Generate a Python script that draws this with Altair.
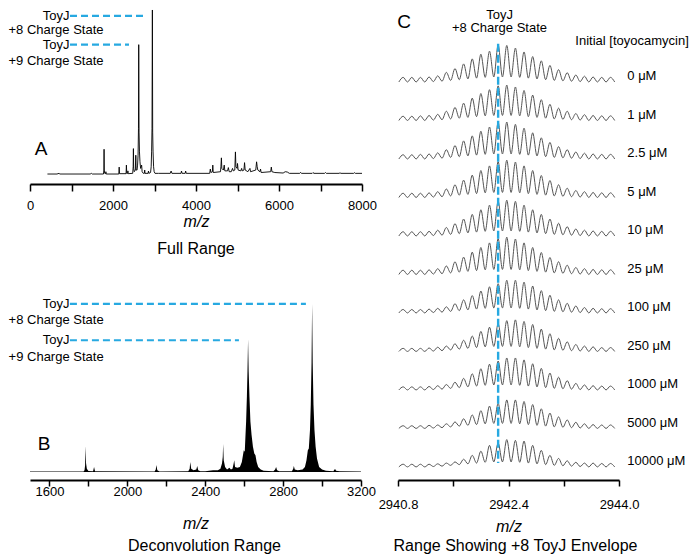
import altair as alt
import pandas as pd

FONT = "Liberation Sans"
CYAN = "#27A9E1"

# ---------------- Panel A: full-range spectrum (m/z, relative intensity) ----------------
a_mz = [420, 650, 700, 720, 1450, 1480, 1500,
        1770, 1780, 1785, 1790, 1800, 1822, 1829, 1836,
        2140, 2149, 2158,
        2315, 2323, 2332, 2352, 2359, 2366,
        2475, 2486, 2492, 2498, 2512, 2538, 2549, 2558, 2580, 2592, 2604, 2614, 2620, 2628, 2638, 2650, 2665, 2690, 2702, 2730, 2755, 2764, 2772, 2845, 2855, 2865,
        2905, 2920, 2930, 2940, 2949, 2956, 2965, 2978, 2992, 3012,
        3100, 3380, 3400, 3420, 3640, 3650, 3665, 3740, 3750, 3765,
        4330, 4345, 4360, 4395, 4405, 4415,
        4590, 4600, 4612, 4622, 4660, 4680, 4695, 4760, 4780, 4800, 4850, 4880, 4900,
        4935, 4950, 4962, 4990, 5000, 5015, 5080, 5100, 5115, 5155, 5170, 5185, 5250, 5300, 5315,
        5440, 5460, 5475, 5490, 5540, 5555, 5570,
        5800, 5815, 5830, 5900,
        6100, 6150, 6200, 6250,
        6500, 6520, 6540, 6800, 6820, 6840, 7100, 7120, 7140, 7450, 7470, 7490, 7800, 7820, 7840, 8000]
a_int = [0.6, 0.6, 1.0, 0.6, 0.6, 1.0, 0.6,
         0.6, 3, 15.6, 3, 1, 0.8, 2, 0.6,
         0.6, 4.8, 0.8,
         0.8, 6, 1, 1, 2.5, 0.8,
         1, 5, 16, 4, 2, 3, 12, 3, 3, 6, 12, 28, 79, 26, 14, 8, 4, 6, 2, 1, 1, 3, 1, 1, 2.4, 1,
         1.5, 5, 14, 28, 100, 26, 14, 5, 2, 1,
         1, 1, 2.4, 1, 1, 2.4, 1, 1, 2.4, 1,
         1, 3.6, 1.5, 2, 6, 1.5,
         2, 5, 10.4, 4, 3, 6, 2.5, 2.5, 4.5, 2, 2, 4, 2.5,
         3, 14, 5, 4, 7, 3, 2.5, 4, 2.5, 3, 7.5, 3, 2, 4, 2,
         3, 8, 5, 3, 2, 3.6, 1.5,
         2, 4.8, 2, 1.5,
         1.2, 2, 1.8, 1,
         1, 1.6, 1, 1, 1.5, 1, 1, 1.5, 1, 1, 1.4, 1, 1, 1.4, 1, 1]

# ---------------- Panel B: deconvolution range (m/z, relative intensity) ----------------
b_mz = [1500, 1775, 1780, 1783, 1785, 1788, 1792, 1800, 1824, 1829, 1834,
        2140, 2146, 2149, 2154, 2165,
        2313, 2320, 2323, 2328, 2340, 2354, 2359, 2364, 2375,
        2400, 2440, 2465, 2478, 2486, 2490, 2492, 2495, 2502, 2512, 2524, 2532, 2540, 2546, 2549, 2553, 2565,
        2578, 2588, 2598, 2603, 2606, 2610, 2614, 2617, 2620, 2623, 2627, 2632, 2638, 2645, 2652, 2658, 2664, 2672, 2685, 2700,
        2750, 2759, 2764, 2769, 2780,
        2845, 2852, 2855, 2860, 2875,
        2900, 2912, 2920, 2927, 2932, 2938, 2942, 2946, 2949, 2952, 2956, 2961, 2967, 2974, 2985, 3000, 3020,
        3058, 3064, 3067, 3072, 3090, 3200]
b_int = [0.3, 0.3, 1, 4, 15.5, 5, 2, 0.6, 0.4, 3, 0.5,
         0.3, 1.5, 4.2, 1, 0.3,
         0.5, 2, 6, 2, 1, 1.5, 3.6, 1, 0.5,
         0.5, 1, 1, 2, 5, 9, 16.7, 7, 3, 1.5, 2.5, 1.5, 2, 5, 7, 3, 2.5,
         3, 6, 13, 12, 20, 30, 45, 60, 79, 60, 45, 30, 22, 15, 11, 10, 6, 3, 1.5, 0.8,
         0.5, 1.5, 3, 1, 0.5,
         0.5, 2, 3.6, 1.5, 1,
         1.5, 3, 7, 13, 14, 25, 40, 65, 100, 65, 40, 25, 15, 8, 3, 1.5, 0.8,
         0.5, 1.5, 1.8, 0.8, 0.5, 0.3]

# ---------------- Panel C: +8 ToyJ isotope envelopes ----------------
peak_mz = [2940.875, 2941.0, 2941.125, 2941.25, 2941.375, 2941.5, 2941.625, 2941.75, 2941.875,
           2942.0, 2942.125, 2942.25, 2942.375, 2942.5, 2942.625, 2942.75, 2942.875, 2943.0,
           2943.125, 2943.25, 2943.375, 2943.5, 2943.625, 2943.75, 2943.875]
trough_mz = [2940.8125, 2940.9375, 2941.0625, 2941.1875, 2941.3125, 2941.4375, 2941.5625, 2941.6875,
             2941.8125, 2941.9375, 2942.0625, 2942.1875, 2942.3125, 2942.4375, 2942.5625, 2942.6875,
             2942.8125, 2942.9375, 2943.0625, 2943.1875, 2943.3125, 2943.4375, 2943.5625, 2943.6875,
             2943.8125, 2943.9375]
trough_h = [0, 0, 0, 0, .01, .02, .04, .06, .08, .10, .12, .13, .13, .13, .12, .10, .08, .06, .04, .03,
            .02, .01, 0, 0, 0, 0]
conc_labels = ["0 μM", "1 μM", "2.5 μM", "5 μM", "10 μM", "25 μM", "100 μM", "250 μM",
               "1000 μM", "5000 μM", "10000 μM"]
env_0 = [.12, .12, .12, .13, .16, .25, .35, .47, .60, .72, .80, .96, .95, .88, .78, .66, .55, .43, .32, .24, .18, .15, .13, .12, .12]
env_1 = [.11, .11, .12, .13, .16, .24, .34, .45, .58, .70, .80, .90, .92, .87, .78, .66, .54, .42, .32, .24, .18, .15, .13, .12, .12]
env_2p5 = [.11, .11, .12, .13, .16, .24, .35, .47, .60, .72, .83, .95, .96, .90, .80, .68, .55, .43, .32, .24, .18, .15, .13, .12, .12]
env_5 = [.11, .11, .11, .12, .15, .22, .33, .45, .58, .70, .82, .93, .97, .92, .82, .70, .57, .44, .33, .24, .18, .15, .13, .12, .12]
env_10 = [.11, .11, .11, .12, .15, .22, .32, .44, .56, .68, .80, .90, .93, .90, .80, .68, .56, .44, .33, .24, .18, .15, .13, .12, .12]
env_25 = [.11, .11, .11, .12, .15, .22, .33, .45, .58, .70, .82, .93, .97, .92, .82, .70, .57, .44, .33, .24, .18, .15, .13, .12, .12]
env_100 = [.09, .09, .09, .10, .12, .16, .24, .34, .45, .57, .68, .76, .85, .85, .80, .70, .58, .46, .34, .25, .18, .14, .12, .11, .11]
env_250 = [.08, .08, .08, .09, .11, .14, .20, .29, .40, .52, .63, .72, .80, .82, .78, .70, .58, .46, .34, .25, .18, .14, .12, .10, .10]
env_1000 = [.08, .08, .08, .09, .11, .14, .20, .30, .42, .55, .67, .75, .83, .83, .78, .68, .56, .44, .33, .24, .17, .13, .11, .10, .10]
env_5000 = [.07, .07, .07, .08, .09, .12, .17, .25, .35, .46, .58, .65, .74, .74, .70, .62, .51, .40, .30, .22, .16, .12, .10, .09, .09]
env_10000 = [.07, .07, .07, .07, .08, .10, .13, .20, .30, .41, .56, .62, .71, .69, .67, .56, .43, .30, .22, .16, .12, .10, .10, .09, .09]
envelopes = [env_0, env_1, env_2p5, env_5, env_10, env_25, env_100, env_250, env_1000, env_5000, env_10000]

# ---------------- helpers ----------------
def axis(values, label_expr, label_pad, tick, title_pad):
    return alt.Axis(values=values, labelExpr=label_expr, title="m/z", titleFontStyle="italic",
                    titleFontWeight="normal", titleFontSize=16, titleFont=FONT, titleColor="black",
                    titlePadding=title_pad, labelFont=FONT, labelFontSize=13, labelColor="black",
                    labelPadding=label_pad, labelFlush=False, labelOverlap=False, tickSize=tick,
                    tickWidth=1.5, tickColor="black", domainWidth=2, domainColor="black", grid=False)

def bottom_title(text, offset, dx=0):
    return alt.TitleParams(text, orient="bottom", fontSize=16, font=FONT, fontWeight="normal",
                           color="black", offset=offset, dx=dx, anchor="middle")

# ---------------- Panel A chart ----------------
sx_a = alt.Scale(domain=[0, 8000], nice=False, zero=False)
sy_a = alt.Scale(domain=[-5.45, 100.6], nice=False, zero=False)
ax_a = axis(list(range(0, 8001, 1000)), "datum.value % 2000 == 0 ? format(datum.value, 'd') : ''", 8, 7, 1)
xa = alt.X("mz:Q", scale=sx_a, axis=ax_a)
ya = alt.Y("y:Q", scale=sy_a, axis=None)

df_a = pd.DataFrame({"mz": a_mz, "y": a_int})
ann_a = pd.DataFrame({"mz": [627, 627, 627, 627], "y": [96.4, 88, 79, 69],
                      "t": ["ToyJ", "+8 Charge State", "ToyJ", "+9 Charge State"]})
dash_a = pd.DataFrame({"mz": [964, 964], "mz2": [2795, 2385], "y": [96.4, 79]})
let_a = pd.DataFrame({"mz": [265], "y": [15.6], "t": ["A"]})

chart_a = alt.layer(
    alt.Chart(df_a).mark_line(color="black", strokeWidth=0.9).encode(x=xa, y=ya),
    alt.Chart(dash_a).mark_rule(color=CYAN, strokeWidth=2.2, strokeDash=[7, 4]).encode(x=xa, x2="mz2:Q", y=ya),
    alt.Chart(ann_a).mark_text(font=FONT, fontSize=13, color="black").encode(x=xa, y=ya, text="t:N"),
    alt.Chart(let_a).mark_text(font=FONT, fontSize=19, color="black").encode(x=xa, y=ya, text="t:N"),
).properties(width=332, height=175, title=bottom_title("Full Range", 12))

# ---------------- Panel B chart ----------------
sx_b = alt.Scale(domain=[1500, 3200], nice=False, zero=False)
sy_b = alt.Scale(domain=[-4.76, 107.7], nice=False, zero=False)
ax_b = axis(list(range(1600, 3201, 200)), "datum.value % 400 == 0 ? format(datum.value, 'd') : ''", -1, 6, 17)
xb = alt.X("mz:Q", scale=sx_b, axis=ax_b)
yb = alt.Y("y:Q", scale=sy_b, axis=None)

df_b = pd.DataFrame({"mz": b_mz, "y": b_int})
ann_b = pd.DataFrame({"mz": [1634, 1634, 1634, 1634], "y": [100, 90.3, 78.4, 68.5],
                      "t": ["ToyJ", "+8 Charge State", "ToyJ", "+9 Charge State"]})
dash_b = pd.DataFrame({"mz": [1705, 1705], "mz2": [2917, 2573], "y": [100, 78.4]})
let_b = pd.DataFrame({"mz": [1572], "y": [16.7], "t": ["B"]})

chart_b = alt.layer(
    alt.Chart(df_b).mark_area(color="black", opacity=1).encode(x=xb, y=yb),
    alt.Chart(dash_b).mark_rule(color=CYAN, strokeWidth=2.2, strokeDash=[7, 4]).encode(x=xb, x2="mz2:Q", y=yb),
    alt.Chart(ann_b).mark_text(font=FONT, fontSize=13, color="black").encode(x=xb, y=yb, text="t:N"),
    alt.Chart(let_b).mark_text(font=FONT, fontSize=19, color="black").encode(x=xb, y=yb, text="t:N"),
).properties(width=331, height=189, title=bottom_title("Deconvolution Range", 6.5, 9))

# ---------------- Panel C chart ----------------
rows = []
for i, env in enumerate(envelopes):
    for k in range(len(trough_mz)):
        rows.append({"trace": i, "ord": 2 * k, "mz": trough_mz[k], "y": -i + trough_h[k]})
        if k < len(peak_mz):
            rows.append({"trace": i, "ord": 2 * k + 1, "mz": peak_mz[k], "y": -i + env[k]})
df_c = pd.DataFrame(rows)

sx_c = alt.Scale(domain=[2940.8, 2944.0], nice=False, zero=False)
sy_c = alt.Scale(domain=[-10.34, 1.896], nice=False, zero=False)
ax_c = axis([2940.8, 2941.6, 2942.4, 2943.2, 2944.0],
            "abs(datum.value - 2941.6) < 0.01 || abs(datum.value - 2943.2) < 0.01 ? '' : format(datum.value, '.1f')",
            12, 6, 7)
xc = alt.X("mz:Q", scale=sx_c, axis=ax_c)
yc = alt.Y("y:Q", scale=sy_c, axis=None)

lab_c = pd.DataFrame({"mz": [2944.12] * len(conc_labels),
                      "y": [-i + 0.15 for i in range(len(conc_labels))], "t": conc_labels})
head_c = pd.DataFrame({"mz": [2942.27, 2942.27], "y": [1.74, 1.39], "t": ["ToyJ", "+8 Charge State"]})
init_c = pd.DataFrame({"mz": [2945.01], "y": [1.06], "t": ["Initial [toyocamycin]"]})
let_c = pd.DataFrame({"mz": [2940.89], "y": [1.56], "t": ["C"]})
vline_c = pd.DataFrame({"mz": [2942.25], "y": [0.99], "y2": [-9.9]})

chart_c = alt.layer(
    alt.Chart(df_c).mark_line(color="#555555", strokeWidth=1, interpolate="monotone").encode(
        x=xc, y=yc, detail="trace:N", order="ord:Q"),
    alt.Chart(vline_c).mark_rule(color=CYAN, strokeWidth=2.4, strokeDash=[8, 3]).encode(x=xc, y=yc, y2="y2:Q"),
    alt.Chart(lab_c).mark_text(font=FONT, fontSize=13, color="black", align="left").encode(x=xc, y=yc, text="t:N"),
    alt.Chart(head_c).mark_text(font=FONT, fontSize=13, color="black").encode(x=xc, y=yc, text="t:N"),
    alt.Chart(init_c).mark_text(font=FONT, fontSize=13, color="black", align="right").encode(x=xc, y=yc, text="t:N"),
    alt.Chart(let_c).mark_text(font=FONT, fontSize=19, color="black").encode(x=xc, y=yc, text="t:N"),
).properties(width=221, height=471, title=bottom_title("Range Showing +8 ToyJ Envelope", 3.5, 7))

left = alt.vconcat(chart_a, chart_b, spacing=107, bounds="flush")
chart = alt.hconcat(left, chart_c, spacing=1, padding=0).configure_view(stroke=None)

chart.save("out.html", embed_options={"renderer": "svg", "actions": False})
